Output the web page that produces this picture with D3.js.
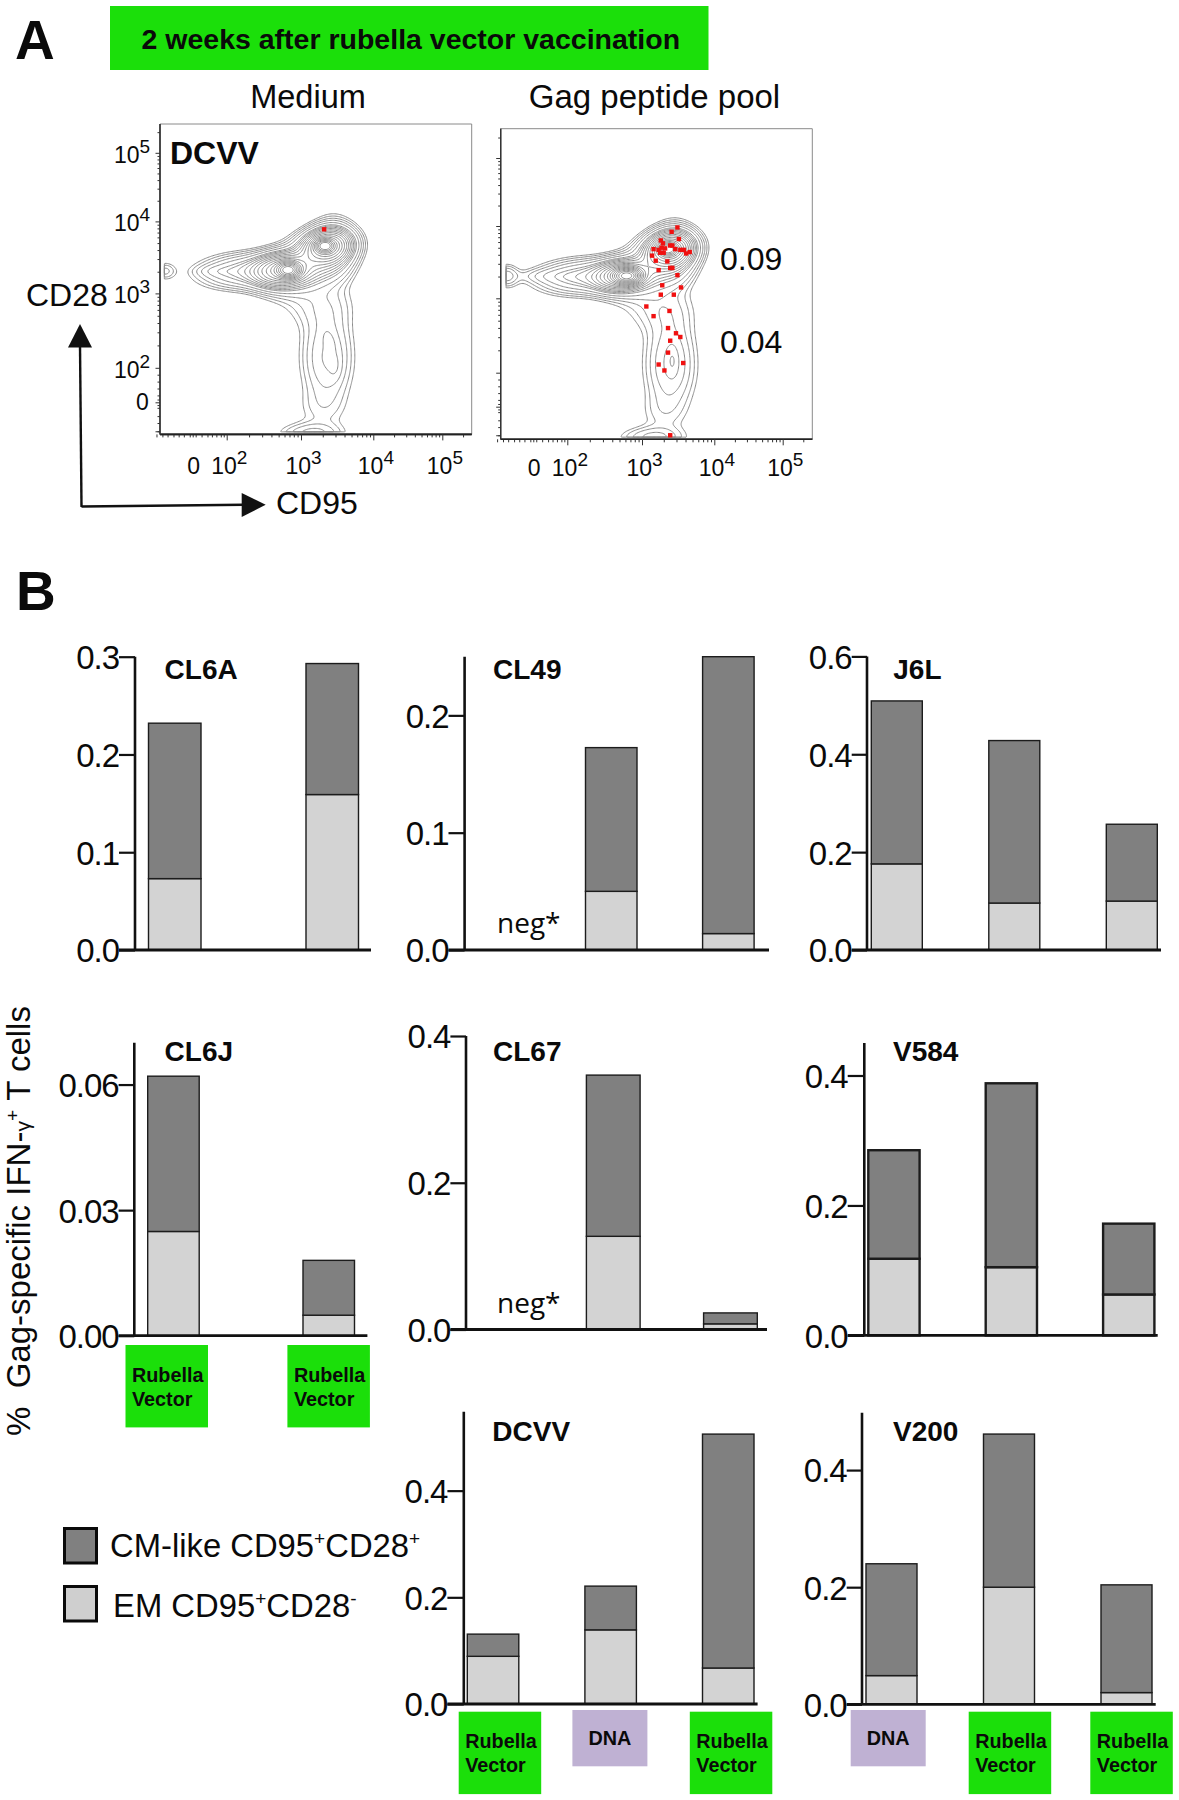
<!DOCTYPE html>
<html><head><meta charset="utf-8">
<script src="https://cdn.jsdelivr.net/npm/d3@7"></script>
<style>html,body{margin:0;padding:0;background:#fff}svg{display:block}text{font-family:"Liberation Sans",Arial,sans-serif;fill:#0a0a0a}</style>
</head><body><svg id="c" width="1179" height="1800"></svg>
<script>
// ---------- DATA: bar panels (% of cells) ----------
const seriesKeys = ["em","cm"];
const seriesLabels = ["CM-like CD95","EM CD95"];
const CL6A_em=[0.073,0.159],  CL6A_cm=[0.159,0.134];
const CL49_em=[0.050,0.014],  CL49_cm=[0.1225,0.236];
const J6L_em =[0.176,0.096,0.100], J6L_cm =[0.333,0.332,0.157];
const CL6J_em=[0.0249,0.0049], CL6J_cm=[0.0371,0.0131];
const CL67_em=[0.127,0.0077], CL67_cm=[0.2197,0.0149];
const V584_em=[0.118,0.105,0.063], V584_cm=[0.167,0.283,0.109];
const DCVV_em=[0.0894,0.139,0.0675], DCVV_cm=[0.0416,0.082,0.4385];
const V200_em=[0.049,0.200,0.020], V200_cm=[0.191,0.2615,0.184];
const CL6A_ticks=[0,0.1,0.2,0.3], CL49_ticks=[0,0.1,0.2], J6L_ticks=[0,0.2,0.4,0.6];
const CL6J_ticks=[0,0.03,0.06], CL67_ticks=[0,0.2,0.4], V584_ticks=[0,0.2,0.4];
const DCVV_ticks=[0,0.2,0.4], V200_ticks=[0,0.2,0.4];
const CL6J_vax=["Rubella Vector","Rubella Vector"];
const DCVV_vax=["Rubella Vector","DNA","Rubella Vector"];
const V200_vax=["DNA","Rubella Vector","Rubella Vector"];

// ---------- DATA: flow plots (decade positions on the biexponential axes) ----------
const xMajor=[1.54,2,3,4,5], xMajorLabels=["0","2","3","4","5"];
const yMajor=[1.5,2,3,4,5];
const mediumDotU=[3.32], mediumDotV=[3.89];
const gagDotU=[3.49,3.41,3.51,3.26,3.29,3.16,3.23,3.27,3.32,3.39,3.42,3.30,3.25,3.46,3.53,3.58,3.61,3.66,3.14,3.19,3.35,3.39,3.42,3.23,3.49,3.28,3.54,3.26,3.44,3.06,3.38,3.16,3.36,3.47,3.53,3.39,3.36,3.23,3.57,3.31,3.39];
const gagDotV=[3.98,3.92,3.82,3.80,3.76,3.68,3.67,3.70,3.69,3.73,3.73,3.63,3.63,3.68,3.67,3.67,3.62,3.64,3.59,3.52,3.51,3.42,3.42,3.39,3.32,3.18,3.15,3.05,3.05,2.89,2.83,2.76,2.60,2.53,2.48,2.43,2.27,2.11,2.13,2.03,1.08];
// populations: u, v, sd u, sd v, tilt, height
const mediumPops=[
 [2.83,3.325,0.085,0.06,0,90],[2.72,3.32,0.21,0.13,0.1,32],[2.3,3.31,0.38,0.14,0.1,9],[1.85,3.31,0.17,0.05,0,1.6],
 [3.33,3.66,0.07,0.05,0,90],[3.36,3.66,0.19,0.13,0.1,40],[3.1,3.4,0.30,0.22,0.35,14],[3.45,3.6,0.17,0.24,0,8],
 [3.25,2.85,0.30,0.20,0,2.0],[3.36,2.15,0.22,0.42,0,4.6],[3.39,2.36,0.05,0.09,-0.4,1.9],[3.47,2.02,0.055,0.12,0,1.2],
 [3.28,1.4,0.24,0.20,0,1.1],[3.15,1.05,0.28,0.10,0,3.2],[1.165,3.31,0.10,0.08,0,2.3]];
const gagPops=[
 [2.8,3.31,0.10,0.06,0,90],[2.7,3.31,0.2,0.12,0.1,28],[2.25,3.30,0.38,0.14,0.1,9],[1.75,3.31,0.28,0.06,0,1.6],
 [3.36,3.68,0.07,0.05,0,90],[3.38,3.68,0.19,0.135,0.1,40],[3.1,3.4,0.30,0.22,0.35,10],[3.45,3.6,0.17,0.24,0,8],
 [3.25,2.85,0.30,0.20,0,2.0],[3.39,2.12,0.22,0.42,0,4.6],[3.42,2.16,0.05,0.13,0,2.2],
 [3.28,1.4,0.22,0.20,0,1.1],[3.15,1.05,0.28,0.10,0,3.2],[1.18,3.31,0.10,0.10,0,3.4]];
const contourLevels=[1,1.45,2.1,3,4.4,6.4,7.8,9.5,11.6,14.2,17.3,21,25.7,31.4,38.3,46.7,57,69.5,84.8,103.5];

// ---------- LAYOUT ----------
const colors={dark:"#808080",light:"#d3d3d3",green:"#1bdf0a",purple:"#bfb1d3",contour:"#8c8c8c",red:"#f01010"};
const svg=d3.select("#c");
function T(sel,x,y,str,size,weight,extra){
  const t=sel.append("text").attr("x",x).attr("y",y).attr("font-size",size).text(str);
  if(weight)t.attr("font-weight",weight);
  if(extra)Object.entries(extra).forEach(([k,v])=>t.attr(k,v));
  return t;
}
// banner + letters
svg.append("rect").attr("x",110).attr("y",6).attr("width",598.5).attr("height",64).attr("fill",colors.green);
T(svg,141.5,49,"2 weeks after rubella vector vaccination",28.5,"bold");
T(svg,15,59,"A",55,"bold");
T(svg,16,610,"B",55,"bold");
T(svg,308,108,"Medium",32.5,null,{"text-anchor":"middle"});
T(svg,654.5,108,"Gag peptide pool",33,null,{"text-anchor":"middle"});

// ---------- flow plots ----------
function flowPanel(p){
  const g=svg.append("g").attr("transform",`translate(${p.x},${p.y})`);
  const xs=d3.scaleLinear().domain(xMajor).range(p.xr);
  const ys=d3.scaleLinear().domain(yMajor).range(p.yr);
  g.append("path").attr("d",`M0,${p.h}V0H${p.w}V${p.h}`).attr("fill","none").attr("stroke","#8a8a8a").attr("stroke-width",1);
  // contours
  const nx=220,ny=220,u0=p.u0,u1=4.9,v0=p.v0,v1=4.6;
  const du=(u1-u0)/(nx-1),dv=(v1-v0)/(ny-1);
  const vals=new Array(nx*ny);
  for(let j=0;j<ny;j++)for(let i=0;i<nx;i++){
    const u=u0+i*du,v=v0+j*dv;let s=0;
    for(const [a,b,su,sv,rho,h] of p.pops){
      const dx=(u-a)/su,dy=(v-b)/sv;
      s+=h*Math.exp(-0.5*(dx*dx+dy*dy-2*rho*dx*dy)/(1-rho*rho));
    }
    vals[i+j*nx]=s;
  }
  const path=d3.geoPath(d3.geoTransform({point(a,b){this.stream.point(xs(u0+(a-0.5)*du),ys(v0+(b-0.5)*dv));}}));
  g.append("g").selectAll("path").data(d3.contours().size([nx,ny]).thresholds(contourLevels)(vals))
    .join("path").attr("d",path).attr("fill","none").attr("stroke",colors.contour).attr("stroke-width",1);
  // dots
  g.append("g").selectAll("rect").data(p.du).join("rect")
    .attr("x",d=>xs(d)-2.2).attr("y",(d,i)=>ys(p.dv[i])-2.2).attr("width",4.4).attr("height",4.4).attr("fill",colors.red);
  // axes
  const minor=d3.range(2,6).flatMap(d=>d3.range(2,10).map(k=>d+Math.log10(k)));
  const lowX=[1.05,1.13,1.2,1.28,1.35,1.42,1.5,1.54,1.58,1.66,1.74,1.8,1.86,1.92,1.96];
  const xMinor=lowX.concat(minor).filter(d=>xs(d)<p.w);
  const xg=g.append("g").attr("transform",`translate(0,${p.h})`);
  xg.call(d3.axisBottom(xs).tickValues(xMinor).tickSize(3).tickFormat(""));
  xg.append("g").call(d3.axisBottom(xs).tickValues(xMajor.slice(1)).tickSize(6).tickFormat(""));
  xg.selectAll(".domain").attr("d",`M0,0H${p.w}`).attr("stroke","#222").attr("stroke-width",1.6);
  xg.selectAll("line").attr("stroke","#333").attr("stroke-width",1);
  const yMinor=[1.08,1.2,1.3,1.42,1.46,1.54,1.6,1.7,1.8,1.9].concat(minor).filter(d=>ys(d)>0);
  const yg=g.append("g");
  yg.call(d3.axisLeft(ys).tickValues(yMinor).tickSize(2.5).tickFormat(""));
  yg.append("g").call(d3.axisLeft(ys).tickValues(yMajor.slice(1).concat([1.5,1.08])).tickSize(4.5).tickFormat(""));
  yg.selectAll(".domain").attr("d",`M0,0V${p.h}`).attr("stroke","#333").attr("stroke-width",1.2);
  yg.selectAll("line").attr("stroke","#333").attr("stroke-width",1);
  // tick labels
  xMajor.forEach((d,i)=>{
    const px=xs(d);
    if(i===0){T(g,px-5.5,p.xLab,"0",23);return;}
    const t=T(g,px-15.5,p.xLab,"10",23);
    t.append("tspan").attr("dy",-10).attr("font-size",19).text(xMajorLabels[i]);
  });
  if(p.yLabels){
    yMajor.forEach((d,i)=>{
      const py=ys(d);
      if(i===0){T(g,-24,py+8,"0",23);return;}
      const t=T(g,-46,py+10,"10",23);
      t.append("tspan").attr("dy",-10).attr("font-size",19).text(xMajorLabels[i]);
    });
  }
}
flowPanel({x:160,y:124,w:311.7,h:310.4,xr:[32.7,66.7,141,213.3,282.3],yr:[278.3,243.8,169.4,97.4,28.8],
  pops:mediumPops,du:mediumDotU,dv:mediumDotV,u0:1.165,v0:1.08,xLab:349.5,yLabels:true});
flowPanel({x:500.7,y:128.7,w:311.6,h:310.6,xr:[32.6,66.6,141.3,213.6,282],yr:[278,244,169.6,97.3,29.3],
  pops:gagPops,du:gagDotU,dv:gagDotV,u0:1.18,v0:1.06,xLab:347.3,yLabels:false});
T(svg,170,164,"DCVV",32,"bold");
T(svg,720,270,"0.09",32);
T(svg,720,353,"0.04",32);
T(svg,26,306,"CD28",32);
T(svg,276,513.5,"CD95",32);
// arrows
svg.append("path").attr("d","M81.5,507 L80,345").attr("stroke","#111").attr("stroke-width",2.4).attr("fill","none");
svg.append("path").attr("d","M81.5,506.5 L244,504.7").attr("stroke","#111").attr("stroke-width",2.4).attr("fill","none");
svg.append("path").attr("d","M80,324L92,347.5H68Z").attr("fill","#111");
svg.append("path").attr("d","M265.7,504.7L241.7,493V517Z").attr("fill","#111");

// ---------- bar panels ----------
const barPanels=[
 {name:"CL6A",em:CL6A_em,cm:CL6A_cm,ticks:CL6A_ticks,top:0.3,axisX:135,y0:950,yt:656.7,left:119,right:371,bar0:148.5,w:52.5,step:157.5,tx:164.6,ty:679,sw:1.4,fmt:".1f"},
 {name:"CL49",em:CL49_em,cm:CL49_cm,ticks:CL49_ticks,top:0.25,axisX:464.6,y0:950,yt:656.7,left:448.5,right:769,bar0:585.5,w:51.5,step:117.1,tx:493,ty:679,sw:1.4,fmt:".1f",neg:[497,933]},
 {name:"J6L",em:J6L_em,cm:J6L_cm,ticks:J6L_ticks,top:0.6,axisX:867,y0:950,yt:656.4,left:851.7,right:1161,bar0:871.3,w:51,step:117.5,tx:893.3,ty:679,sw:1.4,fmt:".1f"},
 {name:"CL6J",em:CL6J_em,cm:CL6J_cm,ticks:CL6J_ticks,top:0.07,axisX:134.3,y0:1335.7,yt:1042.7,left:118.6,right:367.4,bar0:147.7,w:51.5,step:155.3,tx:164.6,ty:1061,sw:1.4,fmt:".2f",vax:CL6J_vax,boxes:[[125.5,1345],[287.4,1345]]},
 {name:"CL67",em:CL67_em,cm:CL67_cm,ticks:CL67_ticks,top:0.4,axisX:466,y0:1329.5,yt:1036,left:450.4,right:767,bar0:586.4,w:53.7,step:117.2,tx:493,ty:1061,sw:1.4,fmt:".1f",neg:[497,1313]},
 {name:"V584",em:V584_em,cm:V584_cm,ticks:V584_ticks,top:0.45,axisX:864.3,y0:1335.4,yt:1043,left:847.7,right:1157.7,bar0:868.3,w:51.3,step:117.4,tx:893,ty:1061,sw:2.4,fmt:".1f"},
 {name:"DCVV",em:DCVV_em,cm:DCVV_cm,ticks:DCVV_ticks,top:0.548,axisX:463.8,y0:1704,yt:1411.7,left:447.4,right:757.6,bar0:467.3,w:51.5,step:117.6,tx:492.3,ty:1441.3,sw:1.4,fmt:".1f",vax:DCVV_vax,boxes:[[458.7,1711.7],[572.4,1710],[689.8,1711.7]]},
 {name:"V200",em:V200_em,cm:V200_cm,ticks:V200_ticks,top:0.498,axisX:862,y0:1704.3,yt:1412.7,left:846.7,right:1155.7,bar0:866,w:51,step:117.5,tx:893,ty:1441.3,sw:1.4,fmt:".1f",vax:V200_vax,boxes:[[850.7,1710],[968.7,1711.7],[1090.3,1711.7]]}
];
barPanels.forEach(p=>{
  const n=p.em.length;
  const rows=p.em.map((e,i)=>({key:i,em:e,cm:p.cm[i]}));
  const y=d3.scaleLinear().domain([0,p.top]).range([p.y0,p.yt]);
  const x=d3.scaleBand().domain(d3.range(n)).range([p.bar0,p.bar0+(n-1)*p.step+p.w]).paddingInner(1-p.w/p.step).paddingOuter(0);
  const stack=d3.stack().keys(seriesKeys)(rows);
  const g=svg.append("g");
  g.selectAll("g.s").data(stack).join("g").attr("fill",d=>d.key==="cm"?colors.dark:colors.light)
    .selectAll("rect").data(d=>d).join("rect")
    .attr("x",d=>x(d.data.key)).attr("width",x.bandwidth())
    .attr("y",d=>y(d[1])).attr("height",d=>y(d[0])-y(d[1]))
    .attr("stroke","#1c1c1c").attr("stroke-width",p.sw);
  const ax=g.append("g").attr("transform",`translate(${p.axisX},0)`);
  ax.call(d3.axisLeft(y).tickValues(p.ticks).tickFormat(d3.format(p.fmt)).tickSize(p.axisX-p.left).tickPadding(0));
  ax.select(".domain").attr("d",`M0,${p.y0}V${p.yt}`).attr("stroke","#111").attr("stroke-width",2.6);
  ax.selectAll("line").attr("stroke","#111").attr("stroke-width",2.2);
  ax.selectAll("text").attr("font-size",33).attr("letter-spacing",-1).attr("font-family","Liberation Sans").attr("fill","#0a0a0a").attr("dy","0.36em");
  g.append("line").attr("x1",p.left).attr("x2",p.right).attr("y1",p.y0).attr("y2",p.y0).attr("stroke","#111").attr("stroke-width",2.8);
  T(svg,p.tx,p.ty,p.name,28,"bold");
  if(p.neg){T(svg,p.neg[0],p.neg[1],"neg*",28,null,{style:"font-family:'Open Sans'"});}
  if(p.vax){
    p.vax.forEach((v,i)=>{
      const [bx,by]=p.boxes[i];
      if(v==="DNA"){
        svg.append("rect").attr("x",bx).attr("y",by).attr("width",75).attr("height",56.3).attr("fill",colors.purple);
        T(svg,bx+16,by+35,v,19.8,"bold");
      }else{
        svg.append("rect").attr("x",bx).attr("y",by).attr("width",82.5).attr("height",82.4).attr("fill",colors.green);
        const parts=v.split(" ");
        T(svg,bx+6.5,by+36.5,parts[0],19.8,"bold");
        T(svg,bx+6.5,by+60.5,parts[1],19.8,"bold");
      }
    });
  }
});

// y title
const yt=svg.append("text").attr("transform","translate(30,1436) rotate(-90)").attr("font-size",33);
yt.append("tspan").text("%\u00A0\u00A0Gag-specific IFN-");
yt.append("tspan").attr("font-size",21).text("γ");
yt.append("tspan").attr("font-size",19).attr("dy",-11).text("+");
yt.append("tspan").attr("dy",11).text(" T cells");

// legend
const legendY=[1527,1585];
const legendFill=[colors.dark,"#cfcfcf"];
legendY.forEach((ly,i)=>{
  svg.append("rect").attr("x",64.5).attr("y",ly+1.5).attr("width",32).attr("height",34.5).attr("fill",legendFill[i]).attr("stroke","#0a0a0a").attr("stroke-width",3);
});
const l1=T(svg,110,1556.5,seriesLabels[0],32.8);
l1.append("tspan").attr("dy",-12).attr("font-size",19).text("+");
l1.append("tspan").attr("dy",12).text("CD28");
l1.append("tspan").attr("dy",-12).attr("font-size",19).text("+");
const l2=T(svg,113,1616.5,seriesLabels[1],32.8);
l2.append("tspan").attr("dy",-12).attr("font-size",19).text("+");
l2.append("tspan").attr("dy",12).text("CD28");
l2.append("tspan").attr("dy",-12).attr("font-size",19).text("-");
</script></body></html>
